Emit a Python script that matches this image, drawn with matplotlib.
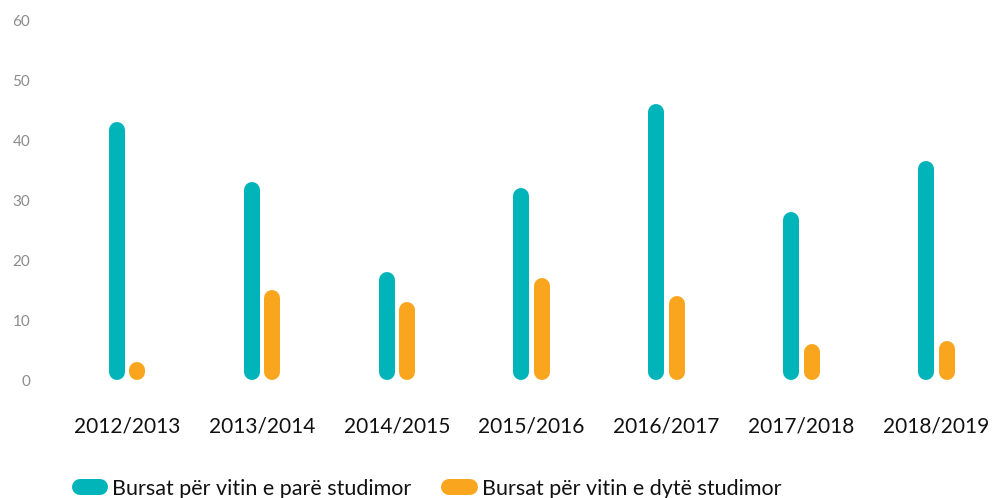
import matplotlib
matplotlib.use("Agg")
import matplotlib.pyplot as plt
from matplotlib.lines import Line2D
import numpy as np

categories = ["2012/2013", "2013/2014", "2014/2015", "2015/2016", "2016/2017", "2017/2018", "2018/2019"]
first_year = [43, 33, 18, 32, 46, 28, 36.5]
second_year = [3, 15, 13, 17, 14, 6, 6.5]
series_names = ["Bursat për vitin e parë studimor", "Bursat për vitin e dytë studimor"]
yticks = [0, 10, 20, 30, 40, 50, 60]

TEAL = "#00b4b9"
ORANGE = "#f9a61e"
W, H, DPI = 993, 498, 100

plt.rcParams['font.family'] = ['Lato', 'DejaVu Sans']
fig = plt.figure(figsize=(W / DPI, H / DPI), dpi=DPI)
left_px, right_px, top_px, bot_px = 59.5, 993, 20, 380
ax = fig.add_axes([left_px / W, 1 - bot_px / H, (right_px - left_px) / W, (bot_px - top_px) / H])
ax.set_xlim(-0.5, -0.5 + (right_px - left_px) / 134.9)
ax.set_ylim(0, 60)

bar_px = 16
lw = bar_px * 72 / DPI
r = (bar_px / 2) / ((bot_px - top_px) / 60)
off = 10.25 / 134.9
x = np.arange(len(categories))
for xs, vals, col in [(x - off, first_year, TEAL), (x + off, second_year, ORANGE)]:
    for xi, v in zip(xs, vals):
        y0, y1 = r, max(v - r, r + 0.001)
        ax.plot([xi, xi], [y0, y1], color=col, lw=lw, solid_capstyle='round', clip_on=False)

for s in ax.spines.values():
    s.set_visible(False)
ax.set_yticks(yticks)
ax.set_yticklabels([str(t) for t in yticks], color="#8c8c8c", fontsize=11)
ax.tick_params(axis='y', length=0, pad=21)
ax.set_xticks(x)
ax.set_xticklabels(categories, fontsize=15, color="#111111")
ax.tick_params(axis='x', length=0, pad=26)

handles = [Line2D([0], [0], color=c, lw=lw, solid_capstyle='round') for c in (TEAL, ORANGE)]
fig.legend(handles, series_names, loc='center left', bbox_to_anchor=(80 / W, 1 - 489 / H),
           ncol=2, frameon=False, fontsize=15.5, handlelength=0.95, handletextpad=0.55,
           columnspacing=1.75, borderpad=0, borderaxespad=0, labelcolor="#111111")

fig.savefig("out.png", dpi=DPI)
